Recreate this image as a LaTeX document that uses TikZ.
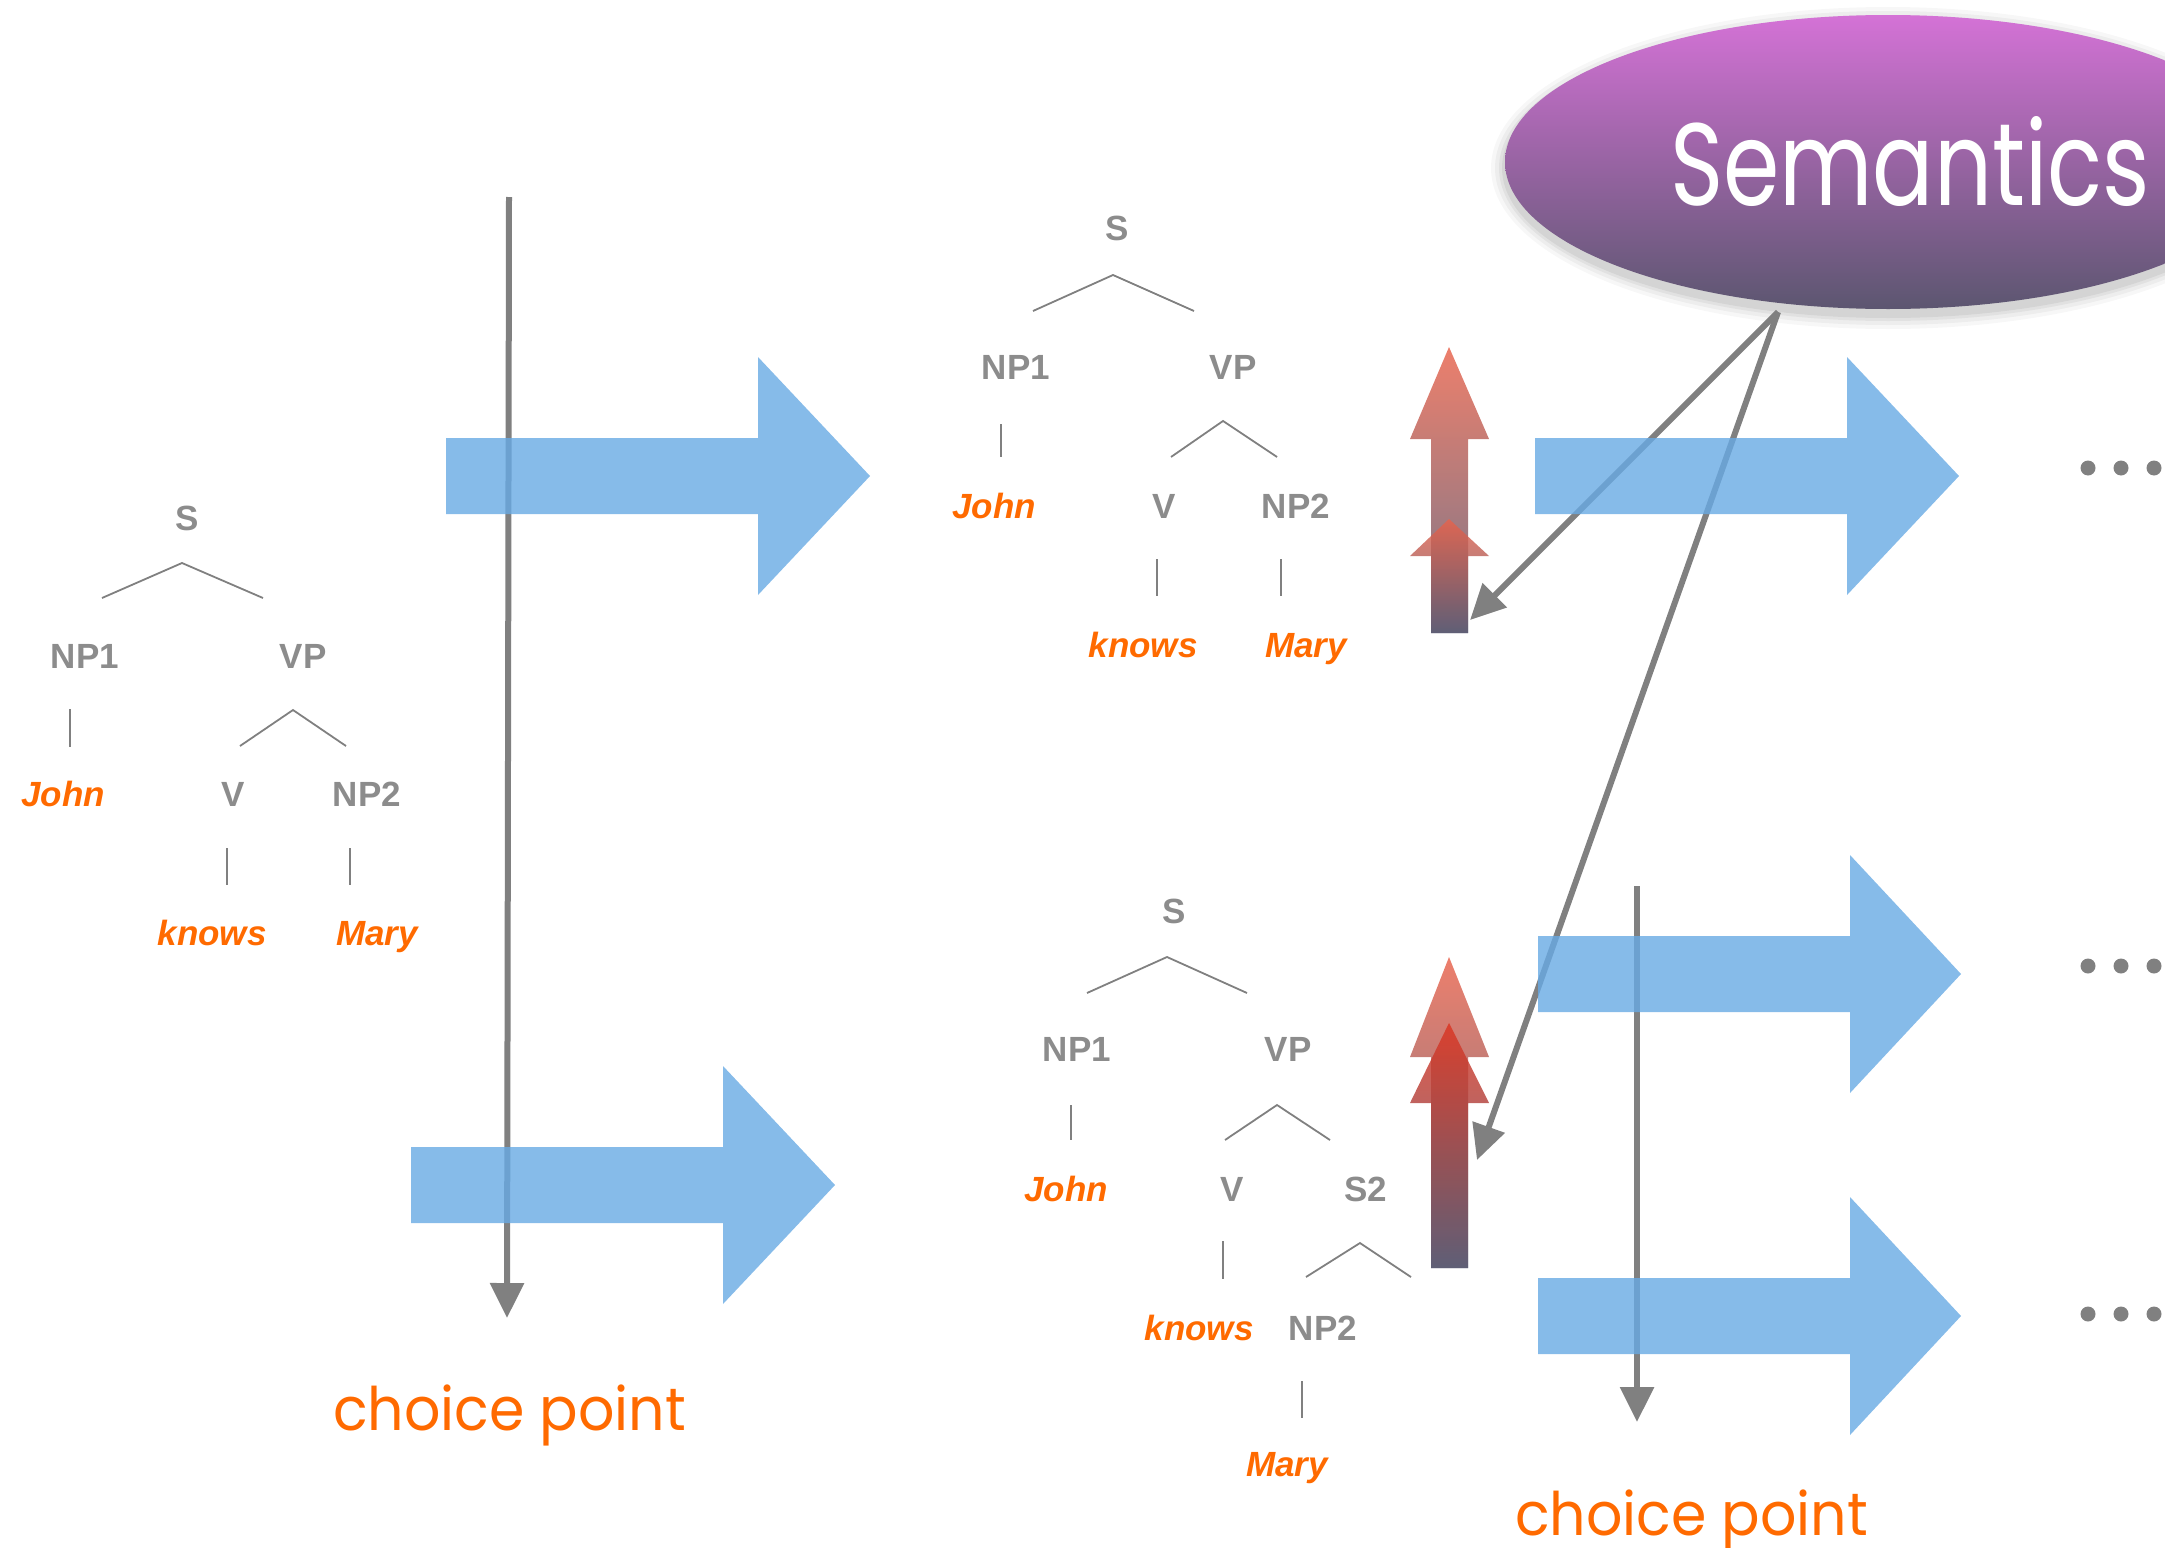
\documentclass[tikz,border=0pt]{standalone}
\usepackage{graphicx}
\usepackage{fontspec}
\setmainfont{Liberation Sans}
\newfontfamily\futura{Poppins}
\usetikzlibrary{arrows.meta,shapes.geometric}
\definecolor{tgray}{HTML}{8C8C8C}
\definecolor{lgray}{HTML}{808080}
\definecolor{torange}{HTML}{FF6A00}
\definecolor{blueA}{HTML}{68AAE4}
\definecolor{redtop}{HTML}{E9624B}
\definecolor{redtopB}{HTML}{DC3420}
\definecolor{slate}{HTML}{5A5A72}
\definecolor{semtop}{HTML}{D472D6}
\definecolor{sembot}{HTML}{5C5670}
\tikzset{
  cat/.style={font=\fontsize{35}{35}\selectfont\bfseries, text=tgray, inner sep=0pt, anchor=base},
  word/.style={font=\fontsize{35}{35}\selectfont\bfseries\itshape, text=torange, inner sep=0pt, anchor=base},
  branch/.style={draw=lgray, line width=1.8pt},
  bluearrow/.style={fill=blueA, fill opacity=0.8, draw=none},
  grayarrow/.style={draw=lgray, line width=6pt, -{Triangle[length=35pt,width=33pt]}},
  redarrow/.style={top color=#1, bottom color=slate, opacity=0.82, draw=none},
  choice/.style={font=\futura\fontsize{60}{60}\selectfont, text=torange, inner sep=0pt, anchor=base west},
  dot/.style={circle, fill=lgray, inner sep=0pt, minimum size=15pt},
}
\begin{document}
\begin{tikzpicture}[x=1pt,y=-1pt]
\useasboundingbox (0,0) rectangle (2165,1547);

% ---------- gray lines underneath blue arrows ----------
\coordinate (lvtop) at (509,197);
\coordinate (lvend) at (507,1318);
\coordinate (rvtop) at (1637,886);
\coordinate (rvend) at (1637,1422);
\draw[grayarrow] (lvtop) -- (lvend);
\draw[grayarrow] (rvtop) -- (rvend);

% ---------- Semantics bubble ----------
\foreach \d/\o in {14/0.03,10/0.04,6/0.05,3/0.06}{
  \fill[black, opacity=\o] (1888,168) ellipse ({383+\d} and {147+\d});
}
\node[ellipse, minimum width=766pt, minimum height=294pt, top color=semtop, bottom color=sembot, draw=none] (sem) at (1888,162) {};
\node[font=\futura\fontsize{117}{117}\selectfont, text=white, inner sep=0pt, anchor=base] (semtext) at (1910,205) {\scalebox{0.775}[1]{Semantics}};
\coordinate (semsrc) at (1778,312);
\coordinate (d1end) at (1470,620);
\coordinate (d2end) at (1477,1160);
\draw[grayarrow] (semsrc) -- (d1end);
\draw[grayarrow] (semsrc) -- (d2end);

% ---------- blue arrows ----------
\fill[bluearrow] (446,438) -- (758,438) -- (758,357) -- (870,476) -- (758,595) -- (758,514) -- (446,514) -- cycle;
\fill[bluearrow] (411,1147) -- (723,1147) -- (723,1066) -- (835,1185) -- (723,1304) -- (723,1223) -- (411,1223) -- cycle;
\fill[bluearrow] (1535,438) -- (1847,438) -- (1847,357) -- (1959,476) -- (1847,595) -- (1847,514) -- (1535,514) -- cycle;
\fill[bluearrow] (1538,936) -- (1850,936) -- (1850,855) -- (1961,974) -- (1850,1093) -- (1850,1012) -- (1538,1012) -- cycle;
\fill[bluearrow] (1538,1278) -- (1850,1278) -- (1850,1197) -- (1961,1316) -- (1850,1435) -- (1850,1354) -- (1538,1354) -- cycle;

% ---------- red arrows ----------
\shade[redarrow=redtop] (1449,347) -- (1489,439) -- (1468,439) -- (1468,633) -- (1431,633) -- (1431,439) -- (1410,439) -- cycle;
\shade[redarrow=redtop] (1449,519) -- (1489,556) -- (1468,556) -- (1468,633) -- (1431,633) -- (1431,556) -- (1410,556) -- cycle;
\shade[redarrow=redtop] (1449,957) -- (1489,1057) -- (1468,1057) -- (1468,1268) -- (1431,1268) -- (1431,1057) -- (1410,1057) -- cycle;
\shade[redarrow=redtopB] (1449,1023) -- (1489,1103) -- (1468,1103) -- (1468,1268) -- (1431,1268) -- (1431,1103) -- (1410,1103) -- cycle;

% ---------- dots ----------
\foreach \yy/\r in {468/1,966/2,1314/3}{
  \node[dot] (dotA\r) at (2088,\yy) {};
  \node[dot] (dotB\r) at (2121,\yy) {};
  \node[dot] (dotC\r) at (2154,\yy) {};
}

% ---------- left tree ----------
\node[cat] (lS) at (187,530) {S};
\node[cat] (lNP1) at (85,668) {NP1};
\node[cat] (lVP) at (303,668) {VP};
\node[word] (lJohn) at (63,806) {John};
\node[cat] (lV) at (233,806) {V};
\node[cat] (lNP2) at (367,806) {NP2};
\node[word] (lknows) at (212,945) {knows};
\node[word] (lMary) at (377,945) {Mary};
\draw[branch] (102,598) -- (182,563) -- (263,598);
\draw[branch] (70,709) -- (70,747);
\draw[branch] (240,746) -- (293,710) -- (346,746);
\draw[branch] (227,848) -- (227,885);
\draw[branch] (350,848) -- (350,885);

% ---------- middle top tree ----------
\node[cat] (tS) at (1117,240) {S};
\node[cat] (tNP1) at (1016,379) {NP1};
\node[cat] (tVP) at (1233,379) {VP};
\node[word] (tJohn) at (994,518) {John};
\node[cat] (tV) at (1164,518) {V};
\node[cat] (tNP2) at (1296,518) {NP2};
\node[word] (tknows) at (1143,657) {knows};
\node[word] (tMary) at (1306,657) {Mary};
\draw[branch] (1033,311) -- (1113,275) -- (1194,311);
\draw[branch] (1001,424) -- (1001,457);
\draw[branch] (1171,457) -- (1223,421) -- (1277,457);
\draw[branch] (1157,559) -- (1157,596);
\draw[branch] (1281,559) -- (1281,596);

% ---------- middle bottom tree ----------
\node[cat] (bS) at (1174,923) {S};
\node[cat] (bNP1) at (1077,1061) {NP1};
\node[cat] (bVP) at (1288,1061) {VP};
\node[word] (bJohn) at (1066,1201) {John};
\node[cat] (bV) at (1232,1201) {V};
\node[cat] (bS2) at (1366,1201) {S2};
\node[word] (bknows) at (1199,1340) {knows};
\node[cat] (bNP2) at (1323,1340) {NP2};
\node[word] (bMary) at (1287,1476) {Mary};
\draw[branch] (1087,993) -- (1167,957) -- (1247,993);
\draw[branch] (1071,1105) -- (1071,1140);
\draw[branch] (1225,1140) -- (1277,1105) -- (1330,1140);
\draw[branch] (1223,1241) -- (1223,1279);
\draw[branch] (1306,1277) -- (1360,1243) -- (1411,1277);
\draw[branch] (1302,1381) -- (1302,1418);

% ---------- choice point labels ----------
\node[choice] (cp1) at (333,1430) {\scalebox{0.95}[1]{choice point}};
\node[choice] (cp2) at (1515,1535) {\scalebox{0.95}[1]{choice point}};
\end{tikzpicture}
\end{document}
